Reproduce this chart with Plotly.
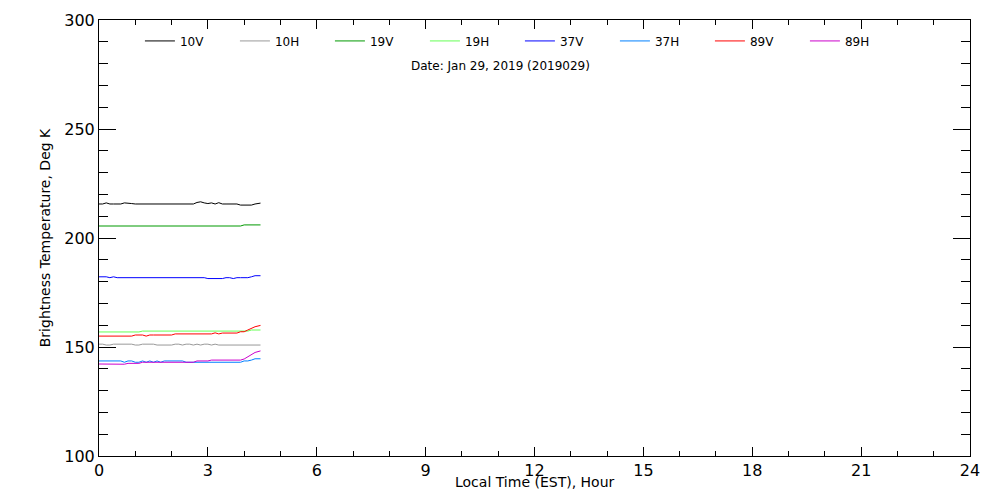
import plotly.graph_objects as go

hours = [0.0, 0.1, 0.2, 0.3, 0.4, 0.5, 0.6, 0.7, 0.8, 0.9,
         1.0, 1.1, 1.2, 1.3, 1.4, 1.5, 1.6, 1.7, 1.8, 1.9,
         2.0, 2.1, 2.2, 2.3, 2.4, 2.5, 2.6, 2.7, 2.8, 2.9,
         3.0, 3.1, 3.2, 3.3, 3.4, 3.5, 3.6, 3.7, 3.8, 3.9,
         4.0, 4.1, 4.2, 4.3, 4.45]

tb_10v = [215.6, 215.6, 216.1, 215.6, 215.6, 215.6, 215.6, 216.1, 216.1, 215.8,
          215.6, 215.6, 215.6, 215.6, 215.6, 215.6, 215.6, 215.6, 215.6, 215.6,
          215.6, 215.6, 215.6, 215.6, 215.6, 215.6, 215.6, 216.3, 216.6, 216.1,
          215.8, 216.1, 215.6, 216.2, 215.6, 215.6, 215.6, 215.6, 215.6, 215.1,
          215.1, 215.4, 215.1, 215.6, 216.0]
tb_10h = [151.3, 151.3, 150.9, 150.9, 151.3, 151.3, 151.3, 151.3, 151.3, 151.3,
          150.9, 150.9, 151.3, 151.3, 151.3, 151.3, 150.9, 150.9, 150.9, 150.9,
          150.9, 151.3, 151.3, 150.9, 151.3, 151.3, 150.9, 151.3, 150.9, 151.3,
          151.3, 150.9, 151.3, 150.9, 150.9, 150.9, 150.9, 150.9, 150.9, 150.9,
          150.9, 150.9, 150.9, 150.9, 150.9]
tb_19v = [205.5, 205.5, 205.5, 205.5, 205.5, 205.5, 205.5, 205.5, 205.5, 205.5,
          205.5, 205.5, 205.5, 205.5, 205.5, 205.5, 205.5, 205.5, 205.5, 205.5,
          205.5, 205.5, 205.5, 205.5, 205.5, 205.5, 205.5, 205.5, 205.5, 205.5,
          205.5, 205.5, 205.5, 205.5, 205.5, 205.5, 205.5, 205.5, 205.5, 205.5,
          206.0, 206.0, 206.0, 206.0, 206.0]
tb_19h = [156.9, 156.9, 156.9, 156.9, 156.9, 156.9, 156.9, 156.9, 156.9, 156.9,
          156.9, 156.9, 157.3, 157.3, 157.3, 157.3, 157.3, 157.3, 157.3, 157.3,
          157.3, 157.3, 157.3, 157.3, 157.3, 157.3, 157.3, 157.3, 157.3, 157.3,
          157.3, 157.3, 157.3, 157.3, 157.3, 157.3, 157.3, 157.3, 157.3, 157.3,
          157.3, 157.3, 157.8, 157.8, 157.8]
tb_37v = [182.2, 182.2, 182.2, 181.8, 182.2, 181.8, 181.8, 181.8, 181.8, 181.8,
          181.8, 181.8, 181.8, 181.8, 181.8, 181.8, 181.8, 181.8, 181.8, 181.8,
          181.8, 181.8, 181.8, 181.8, 181.8, 181.8, 181.8, 181.8, 181.8, 181.8,
          181.4, 181.4, 181.4, 181.4, 181.4, 181.8, 181.8, 181.4, 181.8, 181.8,
          181.8, 181.8, 182.2, 182.7, 182.7]
tb_37h = [143.6, 143.6, 143.6, 143.6, 143.6, 143.6, 143.6, 143.0, 143.6, 143.6,
          143.0, 143.0, 143.6, 143.0, 143.6, 143.0, 143.6, 143.0, 143.6, 143.6,
          143.6, 143.6, 143.6, 143.6, 143.0, 143.0, 143.0, 143.0, 143.0, 143.0,
          143.0, 143.0, 143.0, 143.0, 143.0, 143.0, 143.0, 143.0, 143.0, 143.0,
          143.6, 143.6, 144.0, 144.6, 144.6]
tb_89v = [155.0, 155.0, 155.0, 155.0, 155.0, 155.0, 155.0, 155.0, 155.0, 155.0,
          155.5, 155.5, 155.5, 155.0, 155.5, 155.5, 155.5, 155.5, 155.5, 155.5,
          155.5, 156.0, 156.0, 156.0, 156.0, 156.0, 156.0, 156.0, 156.0, 156.0,
          156.0, 156.0, 156.5, 156.0, 156.4, 156.4, 156.4, 156.4, 156.4, 157.0,
          157.0, 157.8, 158.5, 159.3, 159.9]
tb_89h = [142.2, 142.2, 142.1, 142.1, 142.1, 142.1, 142.1, 142.1, 142.5, 142.5,
          142.5, 142.5, 143.0, 143.0, 143.0, 143.0, 143.0, 143.0, 143.0, 143.0,
          143.0, 143.0, 143.0, 143.0, 143.0, 143.0, 143.0, 143.6, 143.6, 143.6,
          143.6, 144.0, 144.0, 144.0, 144.0, 144.0, 144.0, 144.0, 144.0, 144.0,
          144.5, 145.6, 146.6, 147.5, 148.2]

channels = ["10V", "10H", "19V", "19H", "37V", "37H", "89V", "89H"]
series = [tb_10v, tb_10h, tb_19v, tb_19h, tb_37v, tb_37h, tb_89v, tb_89h]
colors = ["#000000", "#999999", "#009900", "#66ff55",
          "#0000ff", "#0080ff", "#ff0000", "#cc00cc"]

date_text = "Date: Jan 29, 2019 (2019029)"
x_title = "Local Time (EST), Hour"
y_title = "Brightness Temperature, Deg K"

FONT = "DejaVu Sans"

fig = go.Figure()
for name, vals, col in zip(channels, series, colors):
    fig.add_trace(go.Scatter(x=hours, y=vals, name=name, mode="lines",
                             line=dict(color=col, width=1)))

fig.update_layout(
    width=1000, height=500,
    margin=dict(l=99, r=30, t=20, b=44, autoexpand=False),
    paper_bgcolor="white", plot_bgcolor="white",
    font=dict(family=FONT, color="black", size=12),
    showlegend=True,
    legend=dict(orientation="h", x=0.047, xanchor="left",
                y=0.952, yanchor="middle",
                entrywidth=50, entrywidthmode="pixels",
                font=dict(family=FONT, size=12, color="black"),
                bgcolor="rgba(0,0,0,0)", borderwidth=0,
                itemclick=False, itemdoubleclick=False),
    annotations=[
        dict(text=date_text, x=0.4604, y=0.8945,
             xref="paper", yref="paper", showarrow=False,
             xanchor="center", yanchor="middle",
             font=dict(family=FONT, size=12, color="black")),
        dict(text=x_title, x=0.5, y=-0.0596,
             xref="paper", yref="paper", showarrow=False,
             xanchor="center", yanchor="middle",
             font=dict(family=FONT, size=14, color="black")),
    ],
)

fig.update_xaxes(range=[0, 24], tickmode="linear", tick0=0, dtick=3,
                 ticks="inside", ticklen=9, tickwidth=1, tickcolor="black",
                 showline=True, linecolor="black", linewidth=1, mirror="ticks",
                 showgrid=False, zeroline=False, automargin=False,
                 minor=dict(dtick=1, ticks="inside", ticklen=5, tickcolor="black",
                            showgrid=False),
                 tickfont=dict(family=FONT, size=16, color="black"))
fig.update_yaxes(range=[100, 300], tickmode="linear", tick0=100, dtick=50,
                 ticks="inside", ticklen=17, tickwidth=1, tickcolor="black",
                 showline=True, linecolor="black", linewidth=1, mirror="ticks",
                 showgrid=False, zeroline=False, automargin=False,
                 minor=dict(dtick=10, ticks="inside", ticklen=9, tickcolor="black",
                            showgrid=False),
                 tickfont=dict(family=FONT, size=16, color="black"),
                 title=dict(text=y_title, standoff=10,
                            font=dict(family=FONT, size=14, color="black")))

fig.write_html("out.html",
               config={"displayModeBar": False},
               post_script="document.body.style.margin='0';"
                           "document.body.style.padding='0';")
